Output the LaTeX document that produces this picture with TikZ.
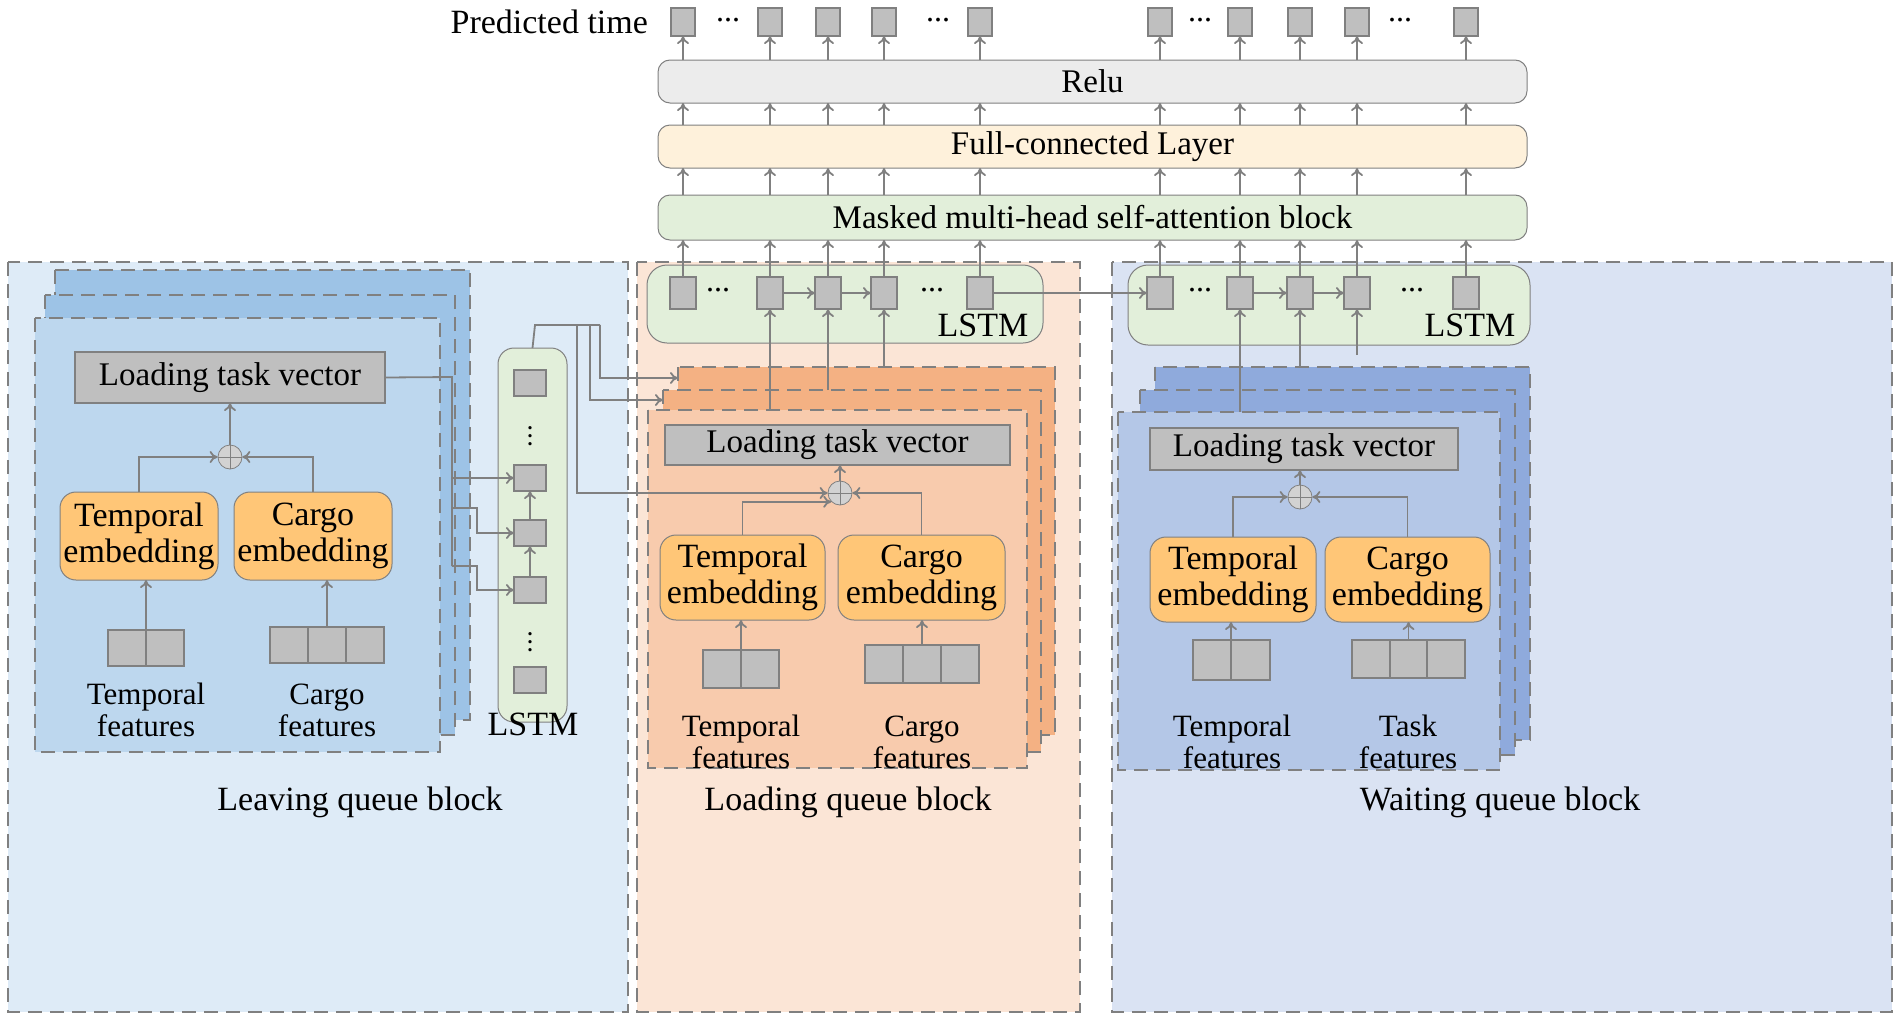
\documentclass[tikz,border=0pt]{standalone}
\usepackage{fontspec}
\setmainfont{Liberation Serif}
\usetikzlibrary{arrows.meta,calc}
\definecolor{ln}{HTML}{808080}
\definecolor{sqf}{HTML}{BFBFBF}
\definecolor{gbg}{HTML}{E2EFDA}
\definecolor{org}{HTML}{FFC677}
\definecolor{lbA}{HTML}{DEEBF7}\definecolor{lbB}{HTML}{9DC3E6}\definecolor{lbC}{HTML}{BDD7EE}
\definecolor{mbA}{HTML}{FBE5D6}\definecolor{mbB}{HTML}{F4B183}\definecolor{mbC}{HTML}{F8CBAD}
\definecolor{rbA}{HTML}{DAE3F3}\definecolor{rbB}{HTML}{8FAADC}\definecolor{rbC}{HTML}{B4C7E7}
\newcommand\bx[7]{\node[#6, inner sep=0pt, outer sep=0pt, minimum width={((#4)-(#2))*0.5pt}, minimum height={((#5)-(#3))*0.5pt}] (#1) at ({((#2)+(#4))/2},{((#3)+(#5))/2}) {#7};}
\begin{document}
\begin{tikzpicture}[x=0.5pt,y=-0.5pt,
  dsh/.style={draw=ln, line width=1.3pt, dash pattern=on 7pt off 4pt},
  sq/.style={draw=ln, fill=sqf, line width=0.6pt},
  ltv/.style={draw=ln, fill=sqf, line width=0.6pt, font=\fontsize{16.5}{18}\selectfont},
  emb/.style={draw=ln, fill=org, rounded corners=8pt, line width=0.5pt, align=center, font=\fontsize{17}{18}\selectfont},
  lay/.style={draw=ln, rounded corners=6pt, line width=0.5pt, font=\fontsize{16.5}{18}\selectfont},
  lbl/.style={align=center, font=\fontsize{15.5}{16}\selectfont},
  blk/.style={font=\fontsize{17}{18}\selectfont},
  dots/.style={font=\fontsize{16}{16}\selectfont, inner sep=0pt},
  vd/.style={inner sep=0pt, font=\bfseries},
  ar/.style={draw=ln, line width=0.9pt, -{To[length=4pt,width=6pt]}},
  cn/.style={draw=ln, line width=0.9pt},
  plus/.style={circle, draw=ln, fill=sqf!70, minimum size=12pt, inner sep=0pt, path picture={\draw[ln,line width=0.4pt] (path picture bounding box.north)--(path picture bounding box.south) (path picture bounding box.west)--(path picture bounding box.east);}}]
\useasboundingbox (0,0) rectangle (1900,1017);
% backgrounds
\path[dsh, fill=lbA] (8,262) rectangle (628,1012);
\path[dsh, fill=mbA] (637,262) rectangle (1080,1012);
\path[dsh, fill=rbA] (1112,262) rectangle (1892,1012);
% top layers
\bx{relu}{658}{60}{1527}{103}{lay, fill=gray!15}{Relu}
\bx{fc}{658}{125}{1527}{168}{lay, fill=yellow!15!orange!12}{Full-connected Layer}
\bx{mask}{658}{195}{1527}{240}{lay, fill=gbg}{Masked multi-head self-attention block}
\node[blk, anchor=east] (pt) at (655,22) {Predicted time};
\foreach \x [count=\i] in {683,770,828,884,980,1160,1240,1300,1357,1466}{
  \bx{o\i}{\x-12}{8}{\x+12}{36}{sq}{}
  \draw[ar] (\x,60) -- (o\i.south);
  \draw[ar] (\x,125) -- (\x,103);
  \draw[ar] (\x,195) -- (\x,168);
}
\foreach \x in {728,938,1200,1400}{\node[dots] at (\x,20) {...};}
% ===== LEFT block
\path[dsh, fill=lbB] (55,270) rectangle (470,720);
\path[dsh, fill=lbB] (45,295) rectangle (455,735);
\path[dsh, fill=lbC] (35,318) rectangle (440,752);
\bx{Lv}{75}{352}{385}{403}{ltv}{Loading task vector}
\node[plus] (Lp) at (230,457) {};
\bx{Lt}{60}{492}{218}{580}{emb}{Temporal\\embedding}
\bx{Lc}{234}{492}{392}{580}{emb}{Cargo\\embedding}
\bx{Lf1}{108}{630}{146}{666}{sq}{}\bx{Lf2}{146}{630}{184}{666}{sq}{}
\bx{Lg1}{270}{627}{308}{663}{sq}{}\bx{Lg2}{308}{627}{346}{663}{sq}{}\bx{Lg3}{346}{627}{384}{663}{sq}{}
\node[lbl] at (146,710) {Temporal\\features};
\node[lbl] at (327,710) {Cargo\\features};
\node[blk] at (360,802) {Leaving queue block};
\draw[ar] (Lf1.north east) -- (Lt.south-|Lf1.north east);
\draw[ar] (Lg2.north) -- (Lg2.north|-Lc.south);
\draw[ar] (Lt.north) |- (Lp.west);
\draw[ar] (Lc.north) |- (Lp.east);
\draw[ar] (Lp.north) -- (Lv.south-|Lp.north);
% left LSTM
\bx{LL}{498}{348}{567}{722}{draw=ln, fill=gbg, rounded corners=8pt, line width=0.5pt}{}
\node[blk] at (533,724) {LSTM};
\bx{l1}{514}{370}{546}{396}{sq}{}
\node[vd] at (530,430) {$\vdots$};
\bx{l2}{514}{465}{546}{491}{sq}{}
\bx{l3}{514}{520}{546}{546}{sq}{}
\bx{l4}{514}{577}{546}{603}{sq}{}
\node[vd] at (530,636) {$\vdots$};
\bx{l5}{514}{667}{546}{693}{sq}{}
\draw[ar] (l4) -- (l3);
\draw[ar] (l3) -- (l2);
\draw[cn] (Lv.east) -- (452,377) -- (452,566);
\draw[ar] (452,478) -- (l2.west);
\draw[ar] (452,508) -- (477,508) -- (477,533) -- (l3.west);
\draw[ar] (452,566) -- (477,566) -- (477,590) -- (l4.west);
% ===== MIDDLE block
\bx{ML}{647}{265}{1043}{343}{draw=ln, fill=gbg, rounded corners=10pt, line width=0.5pt}{}
\node[blk] at (983,325) {LSTM};
\path[dsh, fill=mbB] (678,367) rectangle (1055,735);
\path[dsh, fill=mbB] (663,390) rectangle (1041,752);
\path[dsh, fill=mbC] (648,410) rectangle (1027,768);
\foreach \x [count=\i] in {683,770,828,884,980}{\bx{m\i}{\x-13}{277}{\x+13}{309}{sq}{}\draw[ar] (m\i.north) -- (\x,240);}
\node[dots] at (718,290) {...};\node[dots] at (932,290) {...};
\draw[ar] (m2) -- (m3);\draw[ar] (m3) -- (m4);
\draw[ar] (770,410) -- (m2.south);
\draw[ar] (828,390) -- (m3.south);
\draw[ar] (884,367) -- (m4.south);
\bx{Mv}{665}{425}{1010}{465}{ltv}{Loading task vector}
\node[plus] (Mp) at (840,493) {};
\bx{Mt}{660}{535}{825}{620}{emb}{Temporal\\embedding}
\bx{Mc}{838}{535}{1005}{620}{emb}{Cargo\\embedding}
\bx{Mf1}{703}{650}{741}{688}{sq}{}\bx{Mf2}{741}{650}{779}{688}{sq}{}
\bx{Mg1}{865}{645}{903}{683}{sq}{}\bx{Mg2}{903}{645}{941}{683}{sq}{}\bx{Mg3}{941}{645}{979}{683}{sq}{}
\node[lbl] at (741,742) {Temporal\\features};
\node[lbl] at (922,742) {Cargo\\features};
\node[blk] at (848,802) {Loading queue block};
\draw[ar] (Mf1.north east) -- (Mt.south-|Mf1.north east);
\draw[ar] (Mg2.north) -- (Mg2.north|-Mc.south);
\draw[ar] (Mt.north) |- (Mp.south west);
\draw[ar] (Mc.north) |- (Mp.east);
\draw[ar] (Mp.north) -- (Mv.south-|Mp.north);
% connections left LSTM -> middle
\draw[cn] (LL.north) -- (535,325) -- (600,325);
\draw[ar] (577,325) -- (577,493) -- (Mp.west);
\draw[ar] (590,325) -- (590,400) -- (663,400);
\draw[ar] (600,325) -- (600,378) -- (678,378);
% ===== RIGHT block
\bx{RL}{1128}{265}{1530}{345}{draw=ln, fill=gbg, rounded corners=10pt, line width=0.5pt}{}
\node[blk] at (1470,325) {LSTM};
\path[dsh, fill=rbB] (1155,367) rectangle (1530,740);
\path[dsh, fill=rbB] (1140,390) rectangle (1515,755);
\path[dsh, fill=rbC] (1118,412) rectangle (1500,770);
\foreach \x [count=\i] in {1160,1240,1300,1357,1466}{\bx{r\i}{\x-13}{277}{\x+13}{309}{sq}{}\draw[ar] (r\i.north) -- (\x,240);}
\node[dots] at (1200,290) {...};\node[dots] at (1412,290) {...};
\draw[ar] (r2) -- (r3);\draw[ar] (r3) -- (r4);
\draw[ar] (m5) -- (r1);
\draw[ar] (1240,412) -- (r2.south);
\draw[ar] (1300,367) -- (r3.south);
\draw[ar] (1357,355) -- (r4.south);
\bx{Rv}{1150}{428}{1458}{470}{ltv}{Loading task vector}
\node[plus] (Rp) at (1300,497) {};
\bx{Rt}{1150}{537}{1316}{622}{emb}{Temporal\\embedding}
\bx{Rc}{1325}{537}{1490}{622}{emb}{Cargo\\embedding}
\bx{Rf1}{1193}{640}{1231}{680}{sq}{}\bx{Rf2}{1231}{640}{1270}{680}{sq}{}
\bx{Rg1}{1352}{640}{1390}{678}{sq}{}\bx{Rg2}{1390}{640}{1427}{678}{sq}{}\bx{Rg3}{1427}{640}{1465}{678}{sq}{}
\node[lbl] at (1232,742) {Temporal\\features};
\node[lbl] at (1408,742) {Task\\features};
\node[blk] at (1500,802) {Waiting queue block};
\draw[ar] (Rf1.north east) -- (Rt.south-|Rf1.north east);
\draw[ar] (Rg2.north) -- (Rg2.north|-Rc.south);
\draw[ar] (Rt.north) |- (Rp.west);
\draw[ar] (Rc.north) |- (Rp.east);
\draw[ar] (Rp.north) -- (Rv.south-|Rp.north);
\end{tikzpicture}
\end{document}
